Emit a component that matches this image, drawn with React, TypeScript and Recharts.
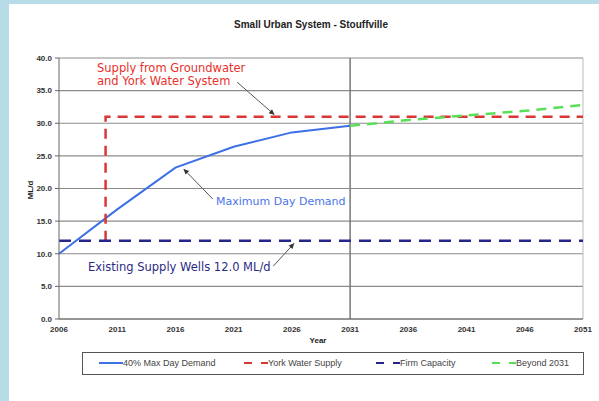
import React from 'react'
import { LineChart, Line, XAxis, YAxis, CartesianGrid, ReferenceLine } from 'recharts'

const demandYears = [2006, 2011, 2016, 2021, 2026, 2031]
const demand = [10.0, 16.8, 23.2, 26.4, 28.6, 29.6]
const beyondYears = [2031, 2036, 2041, 2046, 2051]
const beyond = [29.6, 30.5, 31.2, 31.9, 32.8]
const supplyYears = [2010, 2010, 2051]
const supply = [12, 31, 31]
const firmYears = [2006, 2051]
const firm = [12, 12]

const xTicks = [2006, 2011, 2016, 2021, 2026, 2031, 2036, 2041, 2046, 2051]
const yTicks = [0, 5, 10, 15, 20, 25, 30, 35, 40]

const BLUE = '#3d6fe6'
const RED = '#dc3535'
const NAVY = '#26268a'
const GREEN = '#58e058'

const toRows = (xs: number[], ys: number[]) => xs.map((year, i) => ({ year, value: ys[i] }))

const series = [
  { name: '40% Max Day Demand', color: BLUE, dash: undefined, data: toRows(demandYears, demand) },
  { name: 'York Water Supply', color: RED, dash: '10 7', data: toRows(supplyYears, supply) },
  { name: 'Firm Capacity', color: NAVY, dash: '12 8', data: toRows(firmYears, firm) },
  { name: 'Beyond 2031', color: GREEN, dash: '10 7', data: toRows(beyondYears, beyond) },
]

// annotation arrows, in data units: [fromYear, fromValue, toYear, toValue]
const arrows = [
  [2021.3, 36.3, 2024.5, 31.3],
  [2019.2, 18.4, 2016.7, 23.0],
  [2024.4, 8.1, 2026.2, 11.6],
]

const Arrow = (props: any) => {
  const { x1, y1, x2, y2 } = props
  const a = Math.atan2(y2 - y1, x2 - x1)
  const s = 6
  const p1 = `${x2 - s * Math.cos(a - 0.45)},${y2 - s * Math.sin(a - 0.45)}`
  const p2 = `${x2 - s * Math.cos(a + 0.45)},${y2 - s * Math.sin(a + 0.45)}`
  return (
    <g>
      <line x1={x1} y1={y1} x2={x2} y2={y2} stroke="#555" strokeWidth={1} />
      <polygon points={`${x2},${y2} ${p1} ${p2}`} fill="#333" />
    </g>
  )
}

const tickStyle = { fill: '#333', fontSize: 8, fontWeight: 700, fontFamily: 'Liberation Sans, Arial' }
const noteFont = { position: 'absolute' as const, fontFamily: 'DejaVu Sans', fontSize: 11.5, lineHeight: '13px', whiteSpace: 'nowrap' as const }
const smallBold = { position: 'absolute' as const, fontFamily: 'Liberation Sans, Arial', fontWeight: 700, color: '#222', whiteSpace: 'nowrap' as const }

export default function App() {
  return (
    <div style={{ position: 'absolute', left: 0, top: 0, width: 599, height: 401, background: '#b7dce7', overflow: 'hidden' }}>
      <div style={{ position: 'absolute', left: 9, top: 4, width: 590, height: 397, background: '#fff' }} />
      <div style={{ position: 'absolute', left: 0, top: 0 }}>
        <LineChart width={599} height={401} margin={{ top: 58, right: 16, bottom: 62, left: 25 }}>
          <CartesianGrid vertical={false} stroke="#8c8c8c" strokeWidth={1.2} />
          <XAxis type="number" dataKey="year" domain={[2006, 2051]} ticks={xTicks} height={20}
            tick={tickStyle} tickLine={false} tickMargin={1} axisLine={{ stroke: '#666' }} />
          <YAxis type="number" domain={[0, 40]} ticks={yTicks} width={34} tickFormatter={(v: number) => v.toFixed(1)}
            tick={tickStyle} tickSize={4} tickMargin={3} tickLine={{ stroke: '#666' }} axisLine={{ stroke: '#666' }} />
          <ReferenceLine x={2031} stroke="#777" strokeWidth={1.5} />
          <ReferenceLine x={2051} stroke="#bbb" strokeWidth={1} />
          {series.map((s) => (
            <Line key={s.name} data={s.data} dataKey="value" name={s.name} type="linear" stroke={s.color}
              strokeWidth={s.dash ? 2.5 : 2} strokeDasharray={s.dash} dot={false} activeDot={false} isAnimationActive={false} />
          ))}
          {arrows.map((a, i) => (
            <ReferenceLine key={i} segment={[{ x: a[0], y: a[1] }, { x: a[2], y: a[3] }]} shape={Arrow} />
          ))}
        </LineChart>
      </div>

      <div style={{ ...smallBold, left: 311, top: 19, fontSize: 10, transform: 'translateX(-50%)' }}>Small Urban System - Stouffville</div>
      <div style={{ ...smallBold, left: 318, top: 336, fontSize: 8, transform: 'translateX(-50%)' }}>Year</div>
      <div style={{ ...smallBold, left: 30, top: 190, fontSize: 8, transform: 'translate(-50%, -50%) rotate(-90deg)' }}>ML/d</div>

      <div style={{ ...noteFont, left: 97, top: 62, color: '#e8302c' }}>
        Supply from Groundwater<br />and York Water System
      </div>
      <div style={{ ...noteFont, left: 216, top: 195, fontSize: 11, color: '#4a74ea' }}>Maximum Day Demand</div>
      <div style={{ ...noteFont, left: 88, top: 261, color: '#2b2b86' }}>Existing Supply Wells 12.0 ML/d</div>

      <div style={{ position: 'absolute', left: 82, top: 352, width: 500, height: 21, border: '1px solid #555', background: '#fff' }}>
        {series.map((s, i) => (
          <div key={s.name} style={{ position: 'absolute', left: [16, 161, 293, 409][i], top: 4, display: 'flex', alignItems: 'center' }}>
            <svg width={24} height={12}>
              <line x1={0} y1={6} x2={24} y2={6} stroke={s.color} strokeWidth={2} strokeDasharray={s.dash ? '8 9 7' : undefined} />
            </svg>
            <span style={{ fontFamily: 'Liberation Sans, Arial', fontSize: 9, color: '#444' }}>{s.name}</span>
          </div>
        ))}
      </div>
    </div>
  )
}
